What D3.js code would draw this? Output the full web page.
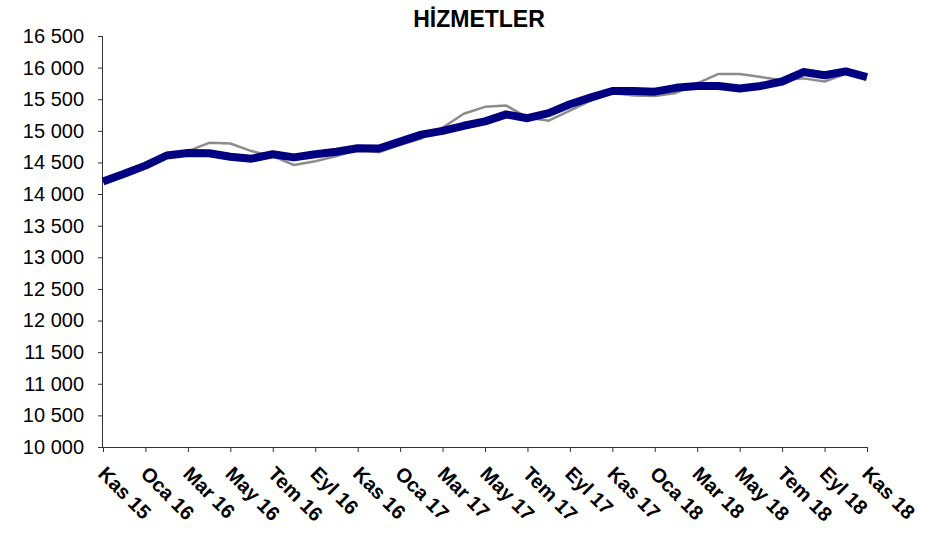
<!DOCTYPE html>
<html>
<head>
<meta charset="utf-8">
<script src="https://cdn.jsdelivr.net/npm/d3@7"></script>
<style>
  html, body { margin: 0; padding: 0; background: #fff; }
  svg { display: block; }
</style>
</head>
<body>
<svg id="chart" width="942" height="534"></svg>
<script>
const months = [
  "Kas 15","Ara 15",
  "Oca 16","Şub 16","Mar 16","Nis 16","May 16","Haz 16","Tem 16","Ağu 16","Eyl 16","Eki 16","Kas 16","Ara 16",
  "Oca 17","Şub 17","Mar 17","Nis 17","May 17","Haz 17","Tem 17","Ağu 17","Eyl 17","Eki 17","Kas 17","Ara 17",
  "Oca 18","Şub 18","Mar 18","Nis 18","May 18","Haz 18","Tem 18","Ağu 18","Eyl 18","Eki 18","Kas 18"
];
const grayValues = [
  14200, 14300,
  14420, 14580, 14680, 14810, 14800, 14680, 14600, 14460, 14520, 14600, 14700, 14660,
  14780, 14880, 15050, 15270, 15380, 15400, 15210, 15160, 15320, 15480, 15600, 15560,
  15550, 15600, 15750, 15900, 15900, 15850, 15800, 15830, 15780, 15900, 15850
];
const navyValues = [
  14200, 14320,
  14450, 14610, 14650, 14645, 14590, 14560, 14630, 14580, 14630, 14670, 14725, 14720,
  14830, 14940, 15000, 15080, 15150, 15260, 15200, 15280, 15420, 15530, 15630, 15630,
  15620, 15680, 15710, 15710, 15670, 15710, 15780, 15930, 15880, 15940, 15850
];
const yTicks = [10000, 10500, 11000, 11500, 12000, 12500, 13000, 13500, 14000, 14500, 15000, 15500, 16000, 16500];
const title = "HİZMETLER";

(function () {
const svg = d3.select("#chart");
const mLeft = 103, mRight = 867, mTop = 36, mBottom = 447;

const x = d3.scalePoint().domain(months).range([mLeft, mRight]);
const y = d3.scaleLinear().domain([10000, 16500]).range([mBottom, mTop]);

const fmt = v => d3.format(",")(v).replace(/,/g, " ");

// Y axis
const yAxis = svg.append("g")
  .attr("transform", `translate(${mLeft},0)`)
  .call(d3.axisLeft(y).tickValues(yTicks).tickSize(5).tickPadding(14).tickFormat(fmt));
yAxis.select(".domain").attr("stroke", "#333").attr("d", `M-0.5,${mTop}V${mBottom}`);
yAxis.selectAll(".tick line").attr("stroke", "#333");
yAxis.selectAll("text")
  .attr("font-family", "Liberation Sans, Arial, sans-serif")
  .attr("font-size", 20)
  .attr("fill", "#000");

// X axis
const labelMonths = months.filter((d, i) => i % 2 === 0);
const xAxis = svg.append("g")
  .attr("transform", `translate(0,${mBottom})`)
  .call(d3.axisBottom(x).tickValues(labelMonths).tickSize(5).tickFormat(""));
xAxis.select(".domain").attr("stroke", "#333").attr("d", `M${mLeft},0.5H${mRight}`);
xAxis.selectAll(".tick line").attr("stroke", "#333");

svg.append("g").selectAll("text")
  .data(labelMonths)
  .join("text")
  .attr("transform", d => `translate(${x(d) - 6},${mBottom + 28}) rotate(45)`)
  .attr("font-family", "Liberation Sans, Arial, sans-serif")
  .attr("font-weight", "bold")
  .attr("font-size", 20)
  .attr("fill", "#000")
  .text(d => d);

// Lines
const line = vals => d3.line()
  .x((d, i) => x(months[i]))
  .y(d => y(d))(vals);

svg.append("path")
  .attr("d", line(grayValues))
  .attr("fill", "none")
  .attr("stroke", "#8c8c8c")
  .attr("stroke-width", 2.5)
  .attr("stroke-linejoin", "round");

svg.append("path")
  .attr("d", line(navyValues))
  .attr("fill", "none")
  .attr("stroke", "#000080")
  .attr("stroke-width", 8)
  .attr("stroke-linejoin", "round");

// Title
svg.append("text")
  .attr("x", 479)
  .attr("y", 27)
  .attr("text-anchor", "middle")
  .attr("font-family", "Liberation Sans, Arial, sans-serif")
  .attr("font-weight", "bold")
  .attr("font-size", 23)
  .attr("fill", "#000")
  .text(title);
})();
</script>
</body>
</html>
